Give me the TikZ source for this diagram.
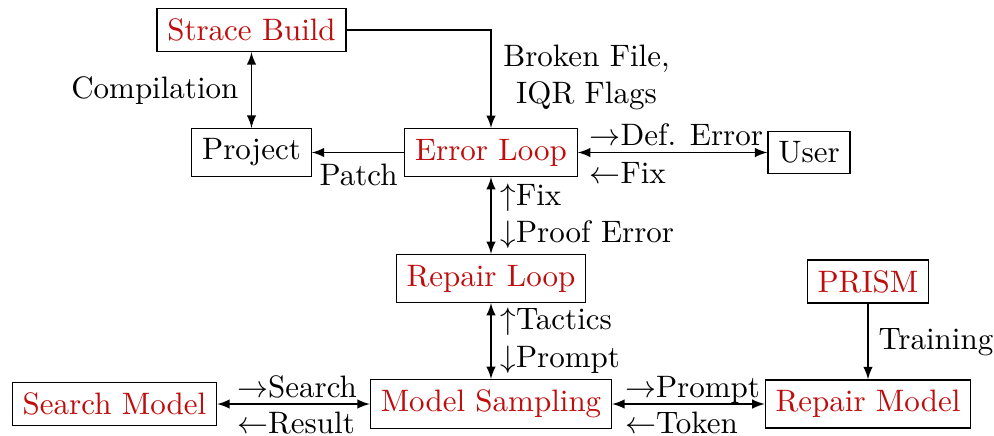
\documentclass[tikz,border=0pt]{standalone}
\usetikzlibrary{arrows}
\definecolor{compred}{rgb}{0.75,0.05,0.05}
\begin{document}
\begin{tikzpicture}[x=0.3226pt,y=-0.3226pt,
  box/.style={draw,inner sep=3.333pt},
  comp/.style={box,text=compred},
  lbl/.style={inner sep=0pt},
  link/.style={-latex},
  dlink/.style={latex-latex}]
\useasboundingbox (0,0) rectangle (994,435);

% components
\node[comp] (strace)   at (251.5,30)   {Strace Build};
\node[box]  (project)  at (251.5,152.5){Project};
\node[comp] (err)      at (491,152.5)  {Error Loop};
\node[box]  (user)     at (809,152.5)  {User};
\node[comp] (rloop)    at (491,278.5)  {Repair Loop};
\node[comp] (prism)    at (868,281.5)  {PRISM};
\node[comp] (search)   at (114.5,404)  {Search Model};
\node[comp] (sampling) at (491,404)    {Model Sampling};
\node[comp] (rmodel)   at (868,404)    {Repair Model};

% connectors
\draw[dlink] (strace) -- (project);
\draw[link]  (strace.east) -| (err.north);
\draw[link]  (err.west) -- (project.east);
\draw[dlink] (err) -- (user);
\draw[dlink] (err) -- (rloop);
\draw[dlink] (rloop) -- (sampling);
\draw[dlink] (search) -- (sampling);
\draw[dlink] (sampling) -- (rmodel);
\draw[link]  (prism) -- (rmodel);

% labels
\node[lbl,anchor=base east] (lcomp) at (239,98) {Compilation};
\node[lbl,align=center] (lbroken) at (586.5,77.5) {Broken File,\\IQR Flags};
\node[lbl,anchor=base] (lpatch) at (358.5,185) {Patch};
\node[lbl,anchor=base west] (ldef) at (589,145) {$\rightarrow$Def. Error};
\node[lbl,anchor=base west] (lfixa) at (589,183) {$\leftarrow$Fix};
\node[lbl,anchor=base west] (lfixb) at (500,205) {$\uparrow$Fix};
\node[lbl,anchor=base west] (lproof) at (500,242) {$\downarrow$Proof Error};
\node[lbl,anchor=base west] (ltac) at (500,329) {$\uparrow$Tactics};
\node[lbl,anchor=base west] (lpra) at (500,367) {$\downarrow$Prompt};
\node[lbl,anchor=base west] (lsearch) at (236.5,397) {$\rightarrow$Search};
\node[lbl,anchor=base west] (lresult) at (236.5,433) {$\leftarrow$Result};
\node[lbl,anchor=base west] (lprb) at (624.5,397) {$\rightarrow$Prompt};
\node[lbl,anchor=base west] (ltoken) at (624.5,433) {$\leftarrow$Token};
\node[lbl,anchor=base west] (ltrain) at (878,349) {Training};
\end{tikzpicture}
\end{document}
